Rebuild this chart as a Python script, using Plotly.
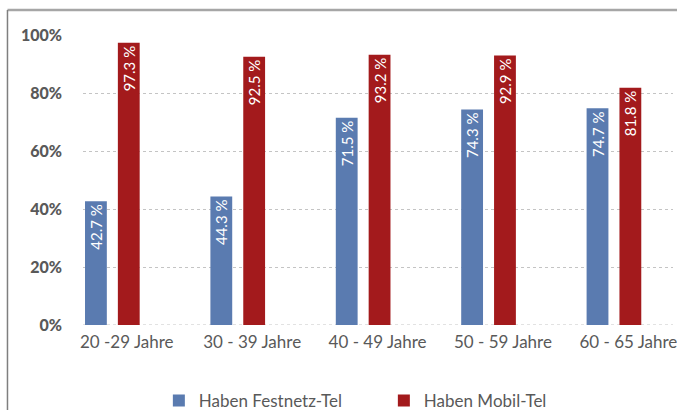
import plotly.graph_objects as go

categories = ["20 -29 Jahre", "30 - 39 Jahre", "40 - 49 Jahre", "50 - 59 Jahre", "60 - 65 Jahre"]
festnetz = [42.7, 44.3, 71.5, 74.3, 74.7]
mobil = [97.3, 92.5, 93.2, 92.9, 81.8]
y_ticks = [0, 20, 40, 60, 80, 100]
y_tick_labels = ["0%", "20%", "40%", "60%", "80%", "100%"]

BLUE = "#5a7bb0"
RED = "#a31a1c"
GRAY_TXT = "#595959"
FONT = "Lato"

fig = go.Figure()
for name, vals, col, off in [("Haben Festnetz-Tel", festnetz, BLUE, -0.333),
                             ("Haben Mobil-Tel", mobil, RED, -0.071)]:
    fig.add_trace(go.Bar(
        x=categories, y=vals, name=name, marker=dict(color=col, line=dict(width=0)),
        width=0.174, offset=off,
        text=[f"{v:.1f} %" for v in vals], textposition="inside",
        insidetextanchor="end", textangle=-90, constraintext="none",
        insidetextfont=dict(color="white", size=15, family=FONT),
    ))

fig.update_layout(
    width=677, height=410, barmode="overlay",
    margin=dict(l=83, r=0, t=35, b=85),
    paper_bgcolor="white", plot_bgcolor="white",
    font=dict(family=FONT, color=GRAY_TXT),
    showlegend=True,
    legend=dict(orientation="h", xref="container", yref="container",
                x=0.567, xanchor="center", y=0.022, yanchor="middle",
                font=dict(size=17, color=GRAY_TXT, family=FONT), entrywidth=180,
                traceorder="normal"),
)
fig.update_xaxes(type="category", range=[-0.349, 4.356], showgrid=False, showline=False,
                 ticks="", tickfont=dict(size=17, color=GRAY_TXT, family=FONT), ticklabelstandoff=5)
fig.update_yaxes(range=[0, 100], tickvals=y_ticks, ticktext=y_tick_labels,
                 showgrid=True, gridcolor="#c4c4c4", griddash="dot", gridwidth=1,
                 zeroline=False, showline=False, ticks="", ticklabelstandoff=20,
                 tickfont=dict(size=16, color=GRAY_TXT, family=FONT + " Black"))
# zero line dotted as in reference
fig.add_shape(type="line", xref="paper", yref="y", x0=0, x1=1, y0=0, y1=0,
              line=dict(color="#c4c4c4", width=1, dash="dot"), layer="below")
# chart frame (partially cropped)
fig.add_shape(type="line", xref="paper", yref="paper", x0=-0.128, x1=1.01, y0=1.0862, y1=1.0862,
              line=dict(color="#a6a6a6", width=2.5))
fig.add_shape(type="line", xref="paper", yref="paper", x0=-0.128, x1=-0.128, y0=1.0862, y1=-0.35,
              line=dict(color="#7f7f7f", width=1.5))

fig.write_html("out.html", config={"displayModeBar": False},
               post_script="document.body.style.margin='0';document.body.style.overflow='hidden';")
